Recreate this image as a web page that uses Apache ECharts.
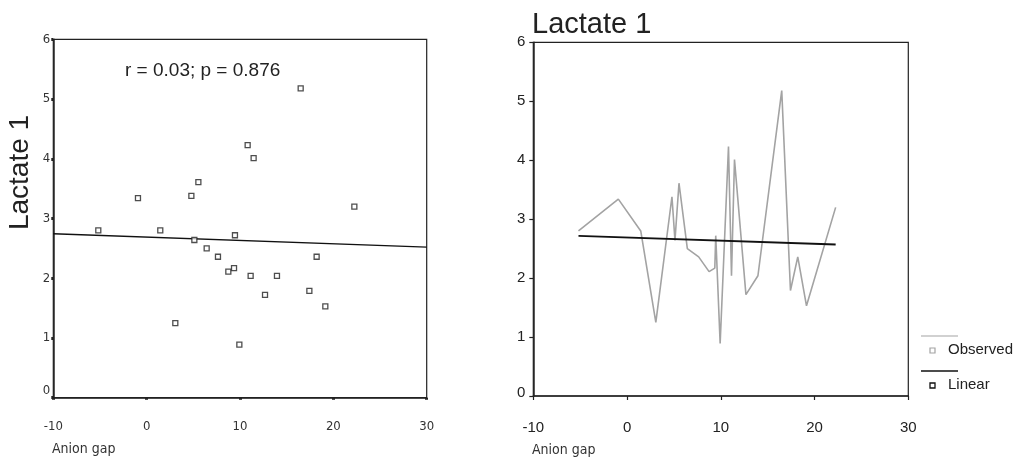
<!DOCTYPE html>
<html>
<head>
<meta charset="utf-8">
<script src="https://cdn.jsdelivr.net/npm/echarts@6/dist/echarts.min.js"></script>
<style>
html,body{margin:0;padding:0;background:#fff;}
#chart{width:1019px;height:460px;}
</style>
</head>
<body>
<div id="chart"></div>
<script>
// Data
var anionGap = [-5.18,-0.93,1.46,3.07,4.79,5.11,5.54,6.43,7.64,8.75,9.36,9.46,9.93,10.82,11.14,11.46,12.68,13.96,16.5,17.43,18.21,19.14,22.25];
var lactate  = [2.80,3.34,2.80,1.25,3.38,2.64,3.61,2.50,2.36,2.11,2.17,2.72,0.89,4.23,2.04,4.01,1.72,2.04,5.18,1.79,2.36,1.53,3.20];
// Regression line endpoints (left panel, drawn across the axis range)
var fitLeftX = [-10, 30];
var fitLeftY = [2.745, 2.52];
// Linear fit endpoints (right panel, across the data range)
var fitRightX = [-5.18, 22.25];
var fitRightY = [2.715, 2.57];
var xTicks = [-10, 0, 10, 20, 30];
var yTicks = [0, 1, 2, 3, 4, 5, 6];
var annotation = 'r = 0.03; p = 0.876';
var yTitle = 'Lactate 1';
var xTitle = 'Anion gap';
var legendNames = ['Observed', 'Linear'];

var FONT = "'Liberation Sans', Arial, sans-serif";
var NARROW = "'Liberation Sans Narrow', 'Arial Narrow', 'DejaVu Sans Condensed', 'Liberation Sans', Arial, sans-serif";

function pairs(xs, ys){ return xs.map(function(x,i){ return [x, ys[i]]; }); }

var chart = echarts.init(document.getElementById('chart'), null, {renderer:'canvas'});

function zeroFmt(v){ return v === 0 ? '{z|0}' : String(v); }

var option = {
  animation: false,
  backgroundColor: '#fff',
  grid: [
    {left: 53.3, top: 39.3, width: 373.4, height: 358.4, show: true, borderColor: '#222', borderWidth: 1.2, backgroundColor: 'transparent'},
    {left: 533.3, top: 42.3, width: 375, height: 353.7, show: true, borderColor: '#222', borderWidth: 1.2, backgroundColor: 'transparent'}
  ],
  xAxis: [
    {gridIndex:0, type:'value', min: xTicks[0], max: xTicks[xTicks.length-1], interval: 10,
     axisLine:{show:true, onZero:false, lineStyle:{color:'#222', width:1.5}},
     axisTick:{show:true, length:2, inside:false, lineStyle:{color:'#222', width:3}},
     splitLine:{show:false},
     axisLabel:{margin:22, color:'#333', fontSize:13, fontFamily:NARROW}},
    {gridIndex:1, type:'value', min: xTicks[0], max: xTicks[xTicks.length-1], interval: 10,
     axisLine:{show:true, onZero:false, lineStyle:{color:'#222', width:1.5}},
     axisTick:{show:true, length:4, lineStyle:{color:'#222', width:1.2}},
     splitLine:{show:false},
     axisLabel:{margin:24, color:'#222', fontSize:15, fontFamily:FONT}}
  ],
  yAxis: [
    {gridIndex:0, type:'value', min: yTicks[0], max: yTicks[yTicks.length-1], interval: 1,
     axisLine:{show:true, onZero:false, lineStyle:{color:'#222', width:1.5}},
     axisTick:{show:true, length:2, lineStyle:{color:'#222', width:3}},
     splitLine:{show:false},
     axisLabel:{margin:3, color:'#333', fontSize:13, fontFamily:NARROW, formatter: zeroFmt,
                rich:{z:{fontSize:13, fontFamily:NARROW, color:'#333', padding:[0,0,14,0]}}}},
    {gridIndex:1, type:'value', min: yTicks[0], max: yTicks[yTicks.length-1], interval: 1,
     axisLine:{show:true, onZero:false, lineStyle:{color:'#222', width:1.5}},
     axisTick:{show:true, length:4, lineStyle:{color:'#222', width:1.2}},
     splitLine:{show:false},
     axisLabel:{margin:8, color:'#222', fontSize:15, fontFamily:FONT, formatter: zeroFmt,
                rich:{z:{fontSize:15, fontFamily:FONT, color:'#222', padding:[0,0,6,0]}}}}
  ],
  series: [
    {type:'scatter', xAxisIndex:0, yAxisIndex:0, data: pairs(anionGap, lactate),
     symbol:'rect', symbolSize:5,
     itemStyle:{color:'#fff', borderColor:'#222', borderWidth:1.3}, z:5},
    {type:'line', xAxisIndex:0, yAxisIndex:0, data: pairs(fitLeftX, fitLeftY),
     symbol:'none', lineStyle:{color:'#111', width:1.3}, z:4},
    {type:'line', name: legendNames[0], xAxisIndex:1, yAxisIndex:1, data: pairs(anionGap, lactate),
     symbol:'none', lineStyle:{color:'#a3a3a3', width:1.6}, z:3},
    {type:'line', name: legendNames[1], xAxisIndex:1, yAxisIndex:1, data: pairs(fitRightX, fitRightY),
     symbol:'none', lineStyle:{color:'#111', width:1.8}, z:4}
  ],
  graphic: [
    {type:'text', left:125, top:61, style:{text: annotation, fontSize:19, fontFamily:FONT, fill:'#222'}},
    {type:'text', x:20, y:172.5, rotation: Math.PI/2,
     style:{text: yTitle, fontSize:28, fontFamily:FONT, fill:'#222', align:'center', verticalAlign:'middle'}},
    {type:'text', left:52, top:442, style:{text: xTitle, fontSize:14, fontFamily:NARROW, fill:'#333'}},
    {type:'text', left:532, top:10, style:{text: yTitle, fontSize:29, fontFamily:FONT, fill:'#222'}},
    {type:'text', left:532, top:443, style:{text: xTitle, fontSize:14, fontFamily:NARROW, fill:'#333'}},
    // legend
    {type:'line', shape:{x1:921, y1:336, x2:958, y2:336}, style:{stroke:'#a3a3a3', lineWidth:1.2}},
    {type:'rect', shape:{x:930, y:348, width:5, height:5}, style:{fill:'#fff', stroke:'#a3a3a3', lineWidth:1.2}},
    {type:'text', x:948, y:350, style:{text: legendNames[0], fontSize:15, fontFamily:FONT, fill:'#222', verticalAlign:'middle'}},
    {type:'line', shape:{x1:921, y1:371, x2:958, y2:371}, style:{stroke:'#111', lineWidth:1.5}},
    {type:'rect', shape:{x:930, y:383, width:5, height:5}, style:{fill:'#fff', stroke:'#111', lineWidth:1.3}},
    {type:'text', x:948, y:385, style:{text: legendNames[1], fontSize:15, fontFamily:FONT, fill:'#222', verticalAlign:'middle'}}
  ]
};
chart.setOption(option);
</script>
</body>
</html>
